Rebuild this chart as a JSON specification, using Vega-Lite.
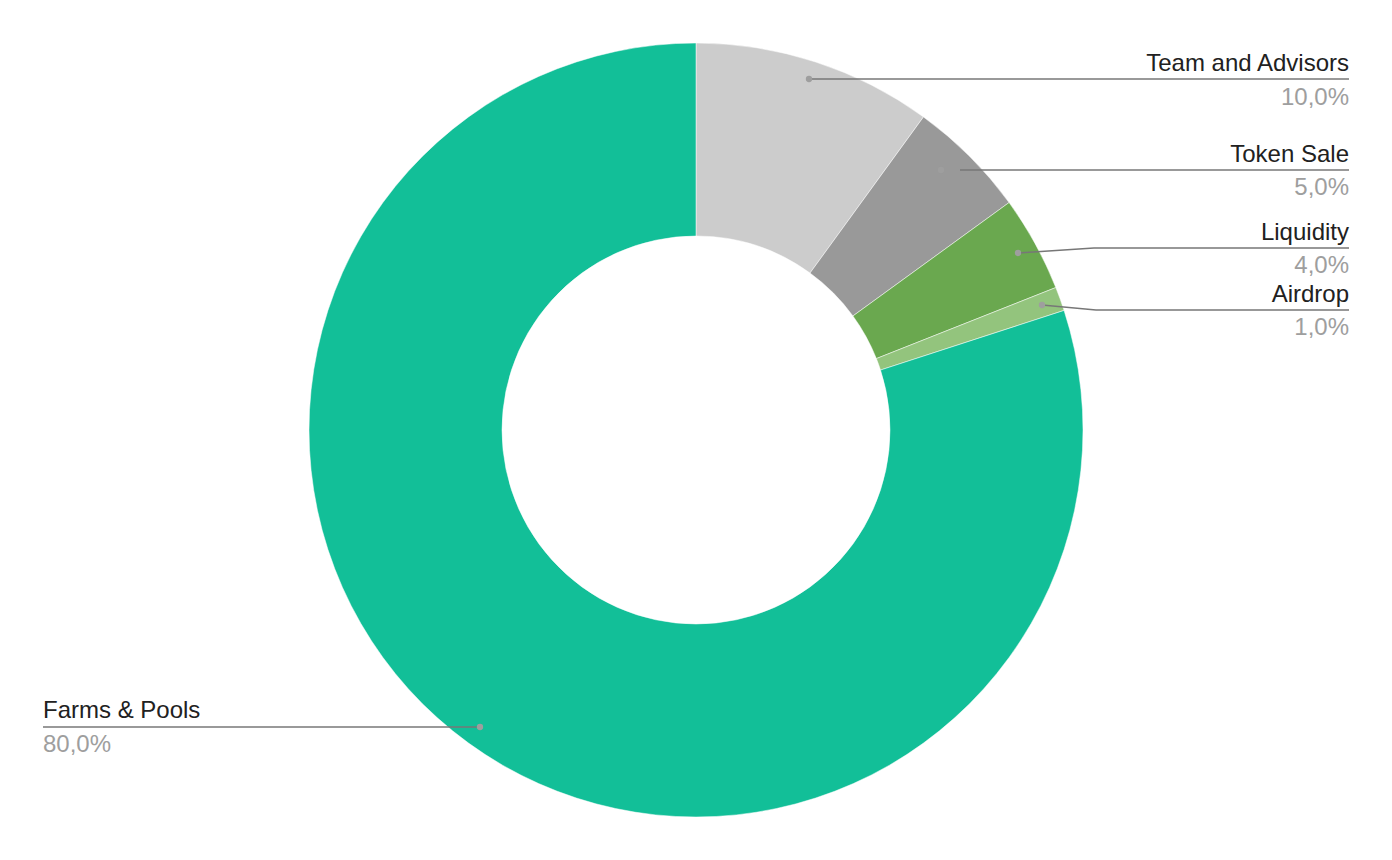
{
  "$schema": "https://vega.github.io/schema/vega-lite/v6.json",
  "width": 1392,
  "height": 860,
  "autosize": {"type": "fit", "contains": "padding"},
  "padding": 0,
  "background": "white",
  "config": {"view": {"stroke": null}},
  "datasets": {
    "slices": [
      {"name": "Team and Advisors", "share": 10, "ord": 1},
      {"name": "Token Sale", "share": 5, "ord": 2},
      {"name": "Liquidity", "share": 4, "ord": 3},
      {"name": "Airdrop", "share": 1, "ord": 4},
      {"name": "Farms & Pools", "share": 80, "ord": 5}
    ],
    "leaders": [
      {"name": "Team and Advisors", "px": 809, "py": 79, "seq": 1},
      {"name": "Team and Advisors", "px": 1349, "py": 79, "seq": 2},
      {"name": "Token Sale", "px": 960, "py": 170, "seq": 1},
      {"name": "Token Sale", "px": 1349, "py": 170, "seq": 2},
      {"name": "Liquidity", "px": 1018, "py": 253, "seq": 1},
      {"name": "Liquidity", "px": 1094, "py": 248, "seq": 2},
      {"name": "Liquidity", "px": 1349, "py": 248, "seq": 3},
      {"name": "Airdrop", "px": 1042, "py": 305, "seq": 1},
      {"name": "Airdrop", "px": 1096, "py": 310, "seq": 2},
      {"name": "Airdrop", "px": 1349, "py": 310, "seq": 3},
      {"name": "Farms & Pools", "px": 480, "py": 727, "seq": 1},
      {"name": "Farms & Pools", "px": 43, "py": 727, "seq": 2}
    ],
    "dots": [
      {"name": "Team and Advisors", "px": 809, "py": 79},
      {"name": "Token Sale", "px": 941, "py": 170},
      {"name": "Liquidity", "px": 1018, "py": 253},
      {"name": "Airdrop", "px": 1042, "py": 305},
      {"name": "Farms & Pools", "px": 480, "py": 727}
    ],
    "labels": [
      {"text": "Team and Advisors", "kind": "name", "side": "right", "px": 1349, "py": 71},
      {"text": "10,0%", "kind": "pct", "side": "right", "px": 1349, "py": 105},
      {"text": "Token Sale", "kind": "name", "side": "right", "px": 1349, "py": 162},
      {"text": "5,0%", "kind": "pct", "side": "right", "px": 1349, "py": 195},
      {"text": "Liquidity", "kind": "name", "side": "right", "px": 1349, "py": 240},
      {"text": "4,0%", "kind": "pct", "side": "right", "px": 1349, "py": 273},
      {"text": "Airdrop", "kind": "name", "side": "right", "px": 1349, "py": 302},
      {"text": "1,0%", "kind": "pct", "side": "right", "px": 1349, "py": 335},
      {"text": "Farms & Pools", "kind": "name", "side": "left", "px": 43, "py": 718},
      {"text": "80,0%", "kind": "pct", "side": "left", "px": 43, "py": 752}
    ]
  },
  "layer": [
    {
      "data": {"name": "slices"},
      "mark": {"type": "arc", "outerRadius": 387, "innerRadius": 194, "stroke": "white", "strokeWidth": 0.5},
      "encoding": {
        "theta": {"field": "share", "type": "quantitative", "stack": true},
        "order": {"field": "ord", "type": "quantitative"},
        "color": {
          "field": "name",
          "type": "nominal",
          "scale": {
            "domain": ["Team and Advisors", "Token Sale", "Liquidity", "Airdrop", "Farms & Pools"],
            "range": ["#cccccc", "#999999", "#6aa84f", "#93c47d", "#12bf98"]
          },
          "legend": null
        }
      }
    },
    {
      "data": {"name": "leaders"},
      "mark": {"type": "line", "color": "#777777", "strokeWidth": 1.5},
      "encoding": {
        "x": {"field": "px", "type": "quantitative", "scale": {"domain": [0, 1392], "nice": false, "zero": false}, "axis": null},
        "y": {"field": "py", "type": "quantitative", "scale": {"domain": [0, 860], "nice": false, "zero": false, "reverse": true}, "axis": null},
        "detail": {"field": "name", "type": "nominal"},
        "order": {"field": "seq", "type": "quantitative"}
      }
    },
    {
      "data": {"name": "dots"},
      "mark": {"type": "point", "filled": true, "color": "#9e9e9e", "size": 40, "opacity": 1},
      "encoding": {
        "x": {"field": "px", "type": "quantitative"},
        "y": {"field": "py", "type": "quantitative"}
      }
    },
    {
      "data": {"name": "labels"},
      "transform": [{"filter": "datum.side === 'right'"}],
      "mark": {"type": "text", "align": "right", "baseline": "alphabetic", "font": "Liberation Sans", "fontSize": 24},
      "encoding": {
        "x": {"field": "px", "type": "quantitative"},
        "y": {"field": "py", "type": "quantitative"},
        "text": {"field": "text", "type": "nominal"},
        "color": {"condition": {"test": "datum.kind === 'name'", "value": "#212121"}, "value": "#9e9e9e"}
      }
    },
    {
      "data": {"name": "labels"},
      "transform": [{"filter": "datum.side === 'left'"}],
      "mark": {"type": "text", "align": "left", "baseline": "alphabetic", "font": "Liberation Sans", "fontSize": 24},
      "encoding": {
        "x": {"field": "px", "type": "quantitative"},
        "y": {"field": "py", "type": "quantitative"},
        "text": {"field": "text", "type": "nominal"},
        "color": {"condition": {"test": "datum.kind === 'name'", "value": "#212121"}, "value": "#9e9e9e"}
      }
    }
  ]
}
